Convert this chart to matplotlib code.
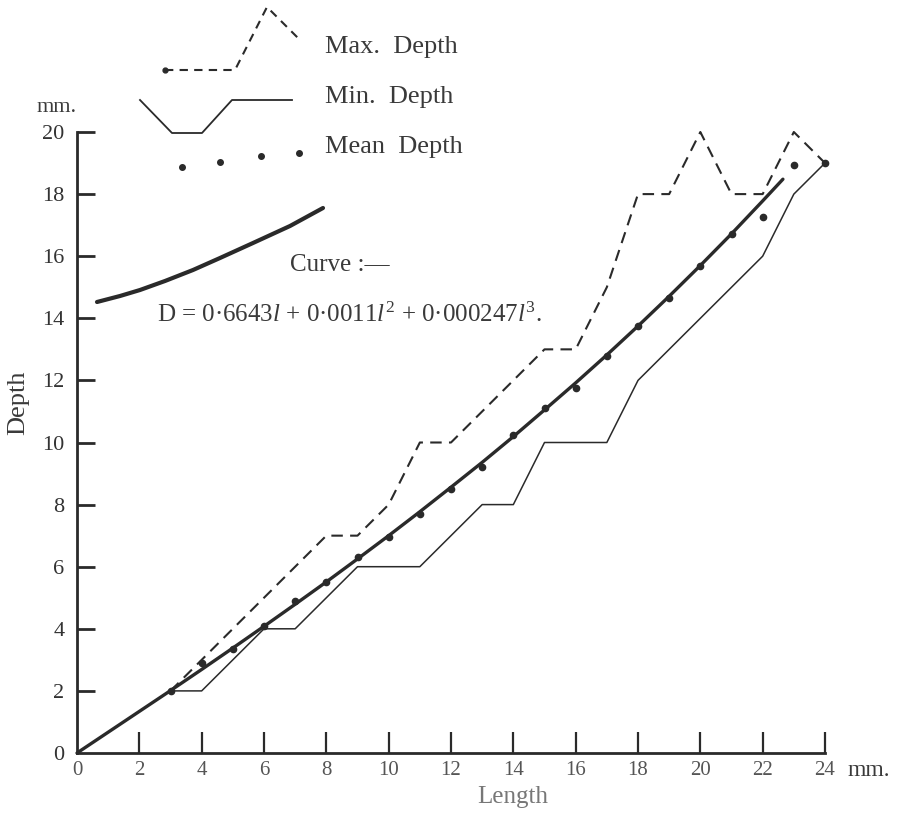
import matplotlib
matplotlib.use("Agg")
import matplotlib.pyplot as plt

plt.rcParams['font.family'] = ['Liberation Serif', 'DejaVu Serif']
plt.rcParams['mathtext.fontset'] = 'custom'
plt.rcParams['mathtext.rm'] = 'Liberation Serif'
plt.rcParams['mathtext.it'] = 'Liberation Serif:italic'

# ---- data ----
length = [3, 4, 5, 6, 7, 8, 9, 10, 11, 12, 13, 14, 15, 16, 17, 18, 19, 20, 21, 22, 23, 24]
max_depth = [2, 3, 4, 5, 6, 7, 7, 8, 10, 10, 11, 12, 13, 13, 15, 18, 18, 20, 18, 18, 20, 19]
min_depth = [2, 2, 3, 4, 4, 5, 6, 6, 6, 7, 8, 8, 10, 10, 10, 12, 13, 14, 15, 16, 18, 19]
mean_depth = [2.0, 2.9, 3.35, 4.1, 4.9, 5.5, 6.3, 6.95, 7.7, 8.5, 9.2, 10.25, 11.1,
              11.75, 12.8, 13.75, 14.65, 15.7, 16.7, 17.25, 18.95, 19.0]
curve_length = [0, 1, 2, 3, 4, 5, 6, 7, 8, 9, 10, 11, 12, 13, 14, 15, 16, 17, 18,
                19, 20, 21, 22, 22.65]
curve_depth = [0, 0.67, 1.34, 2.01, 2.69, 3.38, 4.08, 4.79, 5.51, 6.25, 7.0, 7.77,
               8.56, 9.36, 10.19, 11.05, 11.92, 12.82, 13.75, 14.71, 15.70, 16.72,
               17.78, 18.48]
x_ticks = [0, 2, 4, 6, 8, 10, 12, 14, 16, 18, 20, 22, 24]
y_ticks = [0, 2, 4, 6, 8, 10, 12, 14, 16, 18, 20]

W, H = 897, 816
fig = plt.figure(figsize=(W / 100, H / 100), dpi=100)
fig.patch.set_facecolor('white')
ax = fig.add_axes([77 / W, (H - 753) / H, 748 / W, 753 / H])
ax.set_xlim(0, 24)
ax.set_ylim(0, 753 / 31.05)
ax.patch.set_alpha(0)

ink = '#2a2a2a'
ax.plot(curve_length, curve_depth, color=ink, lw=2.4, solid_capstyle='round', clip_on=False)
ax.plot(length, min_depth, color=ink, lw=1.1, clip_on=False)
ax.plot(length, max_depth, color=ink, lw=1.5, dashes=(5.5, 3.5), clip_on=False)
ax.plot(length, mean_depth, 'o', color=ink, ms=4.5, clip_on=False)

for s in ['top', 'right']:
    ax.spines[s].set_visible(False)
ax.spines['left'].set_bounds(0, 20)
ax.spines['bottom'].set_bounds(0, 24)
for s in ['left', 'bottom']:
    ax.spines[s].set_linewidth(2.0)
    ax.spines[s].set_color(ink)

ax.set_xticks(x_ticks)
ax.set_yticks(y_ticks)
ax.set_xticklabels([str(v) for v in x_ticks], fontsize=15, color='#555555')
ax.set_yticklabels([str(v) for v in y_ticks], fontsize=16, color='#333333')
ax.tick_params(axis='x', direction='in', length=15, width=1.6, color=ink, pad=6)
ax.tick_params(axis='y', direction='in', length=13, width=2.0, color=ink, pad=9)
ax.xaxis.get_major_ticks()[0].tick1line.set_visible(False)
ax.yaxis.get_major_ticks()[0].tick1line.set_visible(False)

def P(px, py):
    return (px / W, 1 - py / H)

def glyph(pts, **kw):
    xs = [p[0] / W for p in pts]
    ys = [1 - p[1] / H for p in pts]
    fig.add_artist(plt.Line2D(xs, ys, transform=fig.transFigure, **kw))

# legend glyphs
glyph([(165, 70), (235, 70), (267, 7), (298, 38)], color=ink, lw=1.5, dashes=(4, 3))
glyph([(165, 70)], color=ink, marker='o', ms=3.5, lw=0)
glyph([(140, 100), (172, 133), (202, 133), (232, 100), (292, 100)], color=ink, lw=1.3)
glyph([(182, 167), (220, 162), (261, 156), (299, 153)], color=ink, marker='o', ms=4, lw=0)
glyph([(97, 302), (120, 296), (140, 290), (165, 281), (193, 270), (220, 258),
       (253, 243), (290, 226), (323, 208)], color=ink, lw=3.0, solid_capstyle='round')

tcol = '#3a3a3a'
fig.text(*P(325, 47), 'Max.  Depth', fontsize=19, color=tcol, va='center', ha='left')
fig.text(*P(325, 97), 'Min.  Depth', fontsize=19, color=tcol, va='center', ha='left')
fig.text(*P(325, 147), 'Mean  Depth', fontsize=19, color=tcol, va='center', ha='left')
fig.text(*P(290, 265), 'Curve :\u2014', fontsize=18, color=tcol, va='center', ha='left')
fig.text(*P(157, 315),
         'D = 0\u00b76643$l$ + 0\u00b70011$l^2$ + 0\u00b7000247$l^3$.',
         fontsize=18, color=tcol, va='center', ha='left')
fig.text(*P(57, 107), 'mm.', fontsize=16, color=tcol, va='center', ha='center')
fig.text(*P(847, 770), 'mm.', fontsize=17, color=tcol, va='center', ha='left')
fig.text(*P(18, 403), 'Depth', fontsize=19, color=tcol, va='center', ha='center',
         rotation=90)
fig.text(*P(513, 797), 'Length', fontsize=18, color='#777777', va='center', ha='center')

fig.savefig('out.png', dpi=100, facecolor='white')
